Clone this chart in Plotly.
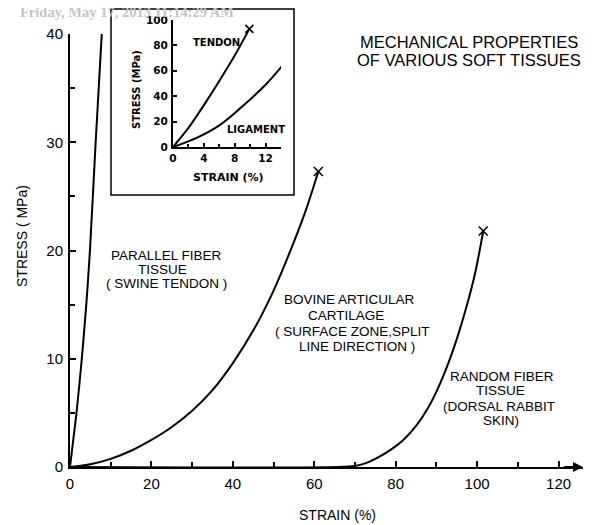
import plotly.graph_objects as go

# ---- data ----
tendon_strain = [0, 0.8, 1.6, 2.9, 4.0, 4.9, 6.3, 7.8]
tendon_stress = [0, 2.5, 5, 10, 15, 20, 30, 40]

cart_strain = [0, 5, 10, 15, 20, 25, 30, 35, 40, 45, 50, 55, 58, 61]
cart_stress = [0, 0.25, 0.75, 1.5, 2.5, 3.7, 5.2, 7.1, 9.6, 12.6, 16.3, 20.8, 23.8, 27.3]

rand_strain = [0, 66, 70, 73, 76, 79, 82, 85, 88, 91, 94, 97, 99.5, 101.5]
rand_stress = [0, 0, 0.1, 0.4, 0.95, 1.65, 2.55, 3.8, 5.5, 7.8, 10.7, 14.3, 17.9, 21.8]

inset_tendon_strain = [0, 2, 4, 6, 8, 9.9]
inset_tendon_stress = [0, 15, 33, 52, 72, 93]
inset_lig_strain = [0, 3, 6, 9, 12, 14.3]
inset_lig_stress = [0, 7, 17, 32, 49, 65]

main_xticks = [0, 20, 40, 60, 80, 100, 120]
main_yticks = [0, 10, 20, 30, 40]
inset_xticks = [0, 4, 8, 12]
inset_yticks = [0, 20, 40, 60, 80, 100]

W, H = 597, 525
OFF = 8  # page body margin
FONT = "Liberation Sans, Arial, sans-serif"

def px(x):
    return (x - OFF) / W

def py(y):
    return (H - (y - OFF)) / H

fig = go.Figure()

def curve(x, y, ax="x", ay="y", sm=0.8):
    fig.add_trace(go.Scatter(x=x, y=y, mode="lines",
                             line=dict(color="black", width=2, shape="spline", smoothing=sm),
                             xaxis=ax, yaxis=ay, cliponaxis=False))

curve(tendon_strain, tendon_stress, sm=0.6)
curve(cart_strain, cart_stress)
curve(rand_strain, rand_stress)
fig.add_trace(go.Scatter(x=[cart_strain[-1], rand_strain[-1]],
                         y=[cart_stress[-1], rand_stress[-1]], mode="markers",
                         marker=dict(symbol="x-thin", size=9, line=dict(color="black", width=1.6)),
                         xaxis="x", yaxis="y", cliponaxis=False))

curve(inset_tendon_strain, inset_tendon_stress, "x2", "y2", sm=1.0)
curve(inset_lig_strain, inset_lig_stress, "x2", "y2", sm=1.0)
fig.add_trace(go.Scatter(x=[inset_tendon_strain[-1], inset_lig_strain[-1]],
                         y=[inset_tendon_stress[-1], inset_lig_stress[-1]], mode="markers",
                         marker=dict(symbol="x-thin", size=8, line=dict(color="black", width=1.6)),
                         xaxis="x2", yaxis="y2", cliponaxis=False))

axis_common = dict(showgrid=False, zeroline=False, showline=True, linecolor="black",
                   linewidth=2, ticks="inside", tickcolor="black", tickwidth=1.5,
                   automargin=False)
inset_font = dict(size=10.5, family="DejaVu Sans", weight="bold")

fig.update_layout(
    width=W, height=H, showlegend=False,
    margin=dict(l=0, r=0, t=0, b=0, autoexpand=False),
    plot_bgcolor="white", paper_bgcolor="white",
    font=dict(family=FONT, color="black"),
    xaxis=dict(domain=[px(70), px(583)], range=[0, 126], tickvals=main_xticks,
               ticklen=6, tickfont=dict(size=15), ticklabelstandoff=2,
               minor=dict(dtick=10, tick0=0, ticks="inside", ticklen=5, tickcolor="black"),
               **axis_common),
    yaxis=dict(domain=[py(467), py(34)], range=[0, 40], tickvals=main_yticks,
               ticklen=6, tickfont=dict(size=15), ticklabelstandoff=2,
               minor=dict(dtick=5, tick0=0, ticks="inside", ticklen=5, tickcolor="black"),
               **axis_common),
    xaxis2=dict(domain=[px(173), px(281)], range=[0, 14], tickvals=inset_xticks,
                anchor="y2", ticklen=4, tickfont=inset_font, ticklabelstandoff=0,
                minor=dict(dtick=2, tick0=0, ticks="inside", ticklen=3, tickcolor="black"),
                **axis_common),
    yaxis2=dict(domain=[py(147), py(20)], range=[0, 100], tickvals=inset_yticks,
                anchor="x2", ticklen=4, tickfont=inset_font, ticklabelstandoff=1,
                **axis_common),
)

fig.update_layout(shapes=[dict(type="rect", xref="paper", yref="paper",
                               x0=px(111), x1=px(294), y0=py(195), y1=py(9),
                               line=dict(color="black", width=1.5),
                               fillcolor="rgba(0,0,0,0)")])

ann = []
def text(x, y, s, size, family=FONT, angle=0, color="black", xanchor="center"):
    ann.append(dict(x=px(x), y=py(y), xref="paper", yref="paper", text=s,
                    showarrow=False, xanchor=xanchor, yanchor="middle", textangle=angle,
                    font=dict(size=size, family=family, color=color)))

text(469, 42, "MECHANICAL PROPERTIES", 16.5)
text(469, 60, "OF VARIOUS SOFT TISSUES", 16.5)
text(22, 236, "STRESS ( MPa)", 14, angle=-90)
text(337, 515, "STRAIN (%)", 14)

for s, x, y in [("PARALLEL FIBER", 166, 255), ("TISSUE", 162, 269),
                ("( SWINE TENDON )", 166, 283),
                ("BOVINE ARTICULAR", 349, 300), ("CARTILAGE", 346, 315),
                ("( SURFACE ZONE,SPLIT", 353, 331), ("LINE DIRECTION )", 357, 346),
                ("RANDOM FIBER", 502, 376), ("TISSUE", 501, 391),
                ("(DORSAL RABBIT", 499, 406), ("SKIN)", 501, 420)]:
    text(x, y, s, 13.5)

text(216, 42, "<b>TENDON</b>", 10, family="DejaVu Sans")
text(256, 129, "<b>LIGAMENT</b>", 10, family="DejaVu Sans")
text(136, 90, "<b>STRESS (MPa)</b>", 10, family="DejaVu Sans", angle=-90)
text(228, 178, "<b>STRAIN (%)</b>", 11, family="DejaVu Sans")
text(236, 12, "<b>Friday, May 17, 2013 11:14:29 AM</b>", 14.5,
     family="Liberation Serif, Times New Roman, serif", color="#c4c4c4", xanchor="right")

ann.append(dict(x=126, y=0, ax=121, ay=0, xref="x", yref="y", axref="x", ayref="y",
                showarrow=True, arrowhead=2, arrowsize=1, arrowwidth=2, arrowcolor="black",
                text=""))
fig.update_layout(annotations=ann)

fig.write_html("out.html")
